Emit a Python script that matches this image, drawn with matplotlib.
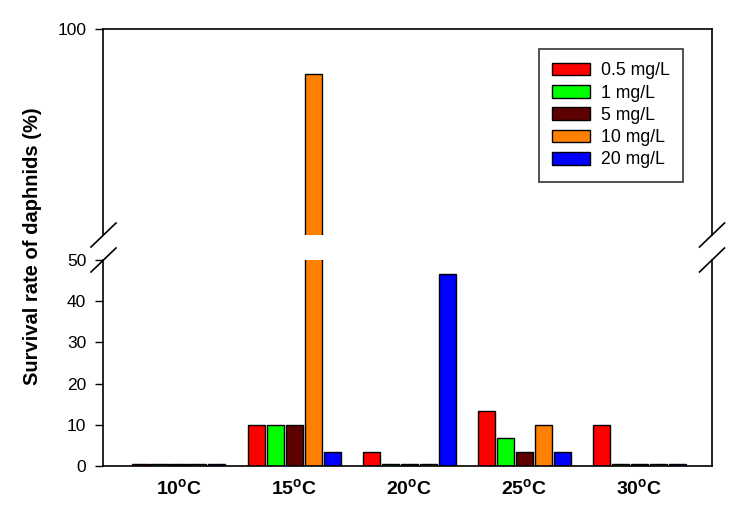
import numpy as np
import matplotlib.pyplot as plt
from matplotlib.lines import Line2D
from matplotlib.patches import Patch

plt.rcParams['font.family'] = ['Liberation Sans', 'DejaVu Sans']

# data
temps = ["10", "15", "20", "25", "30"]
conc_labels = ["0.5 mg/L", "1 mg/L", "5 mg/L", "10 mg/L", "20 mg/L"]
colors = ["#ff0000", "#00ff00", "#5c0000", "#ff8000", "#0000ff"]
survival_05 = [0.5, 10, 3.3, 13.3, 10]
survival_1 = [0.5, 10, 0.5, 6.7, 0.5]
survival_5 = [0.5, 10, 0.5, 3.3, 0.5]
survival_10 = [0.5, 89, 0.5, 10, 0.5]
survival_20 = [0.5, 3.3, 46.7, 3.3, 0.5]
series = [survival_05, survival_1, survival_5, survival_10, survival_20]

fig = plt.figure(figsize=(7.47, 5.09), dpi=100)
left, width = 103 / 747, 609 / 747
h = 206 / 509
ax_top = fig.add_axes([left, (509 - 235) / 509, width, h])
ax_bot = fig.add_axes([left, (509 - 466) / 509, width, h])

x = np.arange(1, len(temps) + 1)
step = 0.165
bw = 0.148
for ax in (ax_top, ax_bot):
    for i, vals in enumerate(series):
        ax.bar(x + (i - 2) * step, vals, width=bw, color=colors[i],
               edgecolor="black", linewidth=1.0)
    ax.set_xlim(0.34, 5.63)
    for s in ax.spines.values():
        s.set_linewidth(1.2)
    ax.tick_params(axis="y", direction="out", length=6, width=1,
                   labelsize=12.5, pad=6)

ax_top.set_ylim(50, 100)
ax_top.set_yticks([100])
ax_top.spines["bottom"].set_visible(False)
ax_top.set_xticks([])

ax_bot.set_ylim(0, 50)
ax_bot.set_yticks([0, 10, 20, 30, 40, 50])
ax_bot.spines["top"].set_visible(False)
ax_bot.set_xticks(x)
ax_bot.set_xticklabels([t + r"$^{\mathregular{o}}$C" for t in temps],
                       fontsize=14, fontweight="bold")
ax_bot.tick_params(axis="x", length=0, pad=9)

# break marks on both sides of the gap
for xp in (103.5, 712):
    for yp in (235, 260):
        fig.add_artist(Line2D([(xp - 12.5) / 747, (xp + 12.5) / 747],
                              [(509 - yp - 12) / 509, (509 - yp + 12) / 509],
                              color="black", linewidth=1.2))

fig.text(33 / 747, (509 - 246) / 509, "Survival rate of daphnids (%)",
         rotation=90, ha="center", va="center", fontsize=14.5,
         fontweight="bold")

handles = [Patch(facecolor=c, edgecolor="black", label=l)
           for c, l in zip(colors, conc_labels)]
leg = ax_top.legend(handles=handles, loc="upper right",
                    bbox_to_anchor=(0.952, 0.903), borderaxespad=0,
                    fontsize=12.7, frameon=True, fancybox=False,
                    edgecolor="black", handlelength=2.15, handleheight=0.74,
                    handletextpad=0.62, borderpad=0.75, labelspacing=0.3)
leg.get_frame().set_linewidth(1.2)

fig.savefig("out.png", dpi=100)
